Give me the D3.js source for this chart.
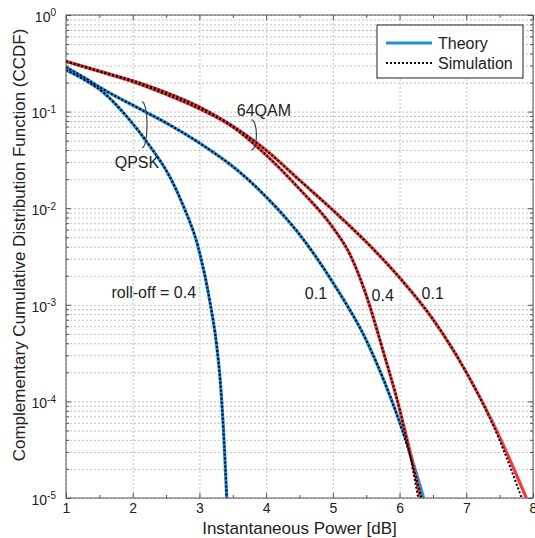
<!DOCTYPE html>
<html>
<head>
<meta charset="utf-8">
<script src="https://cdn.jsdelivr.net/npm/d3@7"></script>
<style>
  body { margin: 0; background: #fff; }
  svg { font-family: "Liberation Sans", Arial, sans-serif; }
  .grid line { stroke: #c0c0c0; stroke-dasharray: 2,2; }
  .grid path { display: none; }
  .axis path { display: none; }
  .axis line { stroke: #555; }
  .axis text { fill: #222; font-size: 14px; }
  .note { fill: #222; font-size: 16px; }
  .title { fill: #222; font-size: 17px; }
</style>
</head>
<body>
<svg class="chart" width="535" height="538"></svg>
<script>
let margin = {top: 15, right: 2, bottom: 40, left: 66};
let canvasWidth = 535;
let canvasHeight = 538;

// ticks
const powerTicks = [1, 2, 3, 4, 5, 6, 7, 8];
const powerMinorTicks = [1.5, 2.5, 3.5, 4.5, 5.5, 6.5, 7.5];
const ccdfTicks = [1e-5, 1e-4, 1e-3, 1e-2, 1e-1, 1];

// QPSK, roll-off 0.1
const qpsk01Power = [1.0, 1.3, 1.56, 2.16, 2.56, 3.01, 3.61, 4.01, 4.51, 5.01, 5.51, 5.86, 6.11, 6.36];
const qpsk01Theory = [0.288, 0.219, 0.170, 0.102, 0.0724, 0.0468, 0.0234, 0.0129, 0.00525, 0.00166, 4.17e-4, 1.12e-4, 3.72e-5, 1e-5];
const qpsk01SimPower = [1.0, 1.3, 1.56, 2.16, 2.56, 3.01, 3.61, 4.01, 4.51, 5.01, 5.51, 5.86, 6.1, 6.33];
const qpsk01Sim = [0.288, 0.219, 0.170, 0.102, 0.0724, 0.0468, 0.0234, 0.0129, 0.00525, 0.00166, 4.17e-4, 1.12e-4, 3.72e-5, 1e-5];

// QPSK, roll-off 0.4
const qpsk04Power = [1.0, 1.3, 1.56, 1.91, 2.26, 2.56, 2.76, 2.98, 3.16, 3.26, 3.31, 3.36, 3.41];
const qpsk04Theory = [0.269, 0.209, 0.158, 0.0891, 0.0437, 0.0209, 0.0105, 0.00398, 0.00105, 3.72e-4, 1.70e-4, 5.13e-5, 1e-5];
const qpsk04SimPower = [1.0, 1.3, 1.56, 1.91, 2.26, 2.56, 2.76, 2.98, 3.16, 3.26, 3.31, 3.36, 3.41];
const qpsk04Sim = [0.269, 0.209, 0.158, 0.0891, 0.0437, 0.0209, 0.0105, 0.00398, 0.00105, 3.72e-4, 1.70e-4, 5.13e-5, 1e-5];

// 64QAM, roll-off 0.1
const qam01Power = [1.0, 1.5, 2.0, 2.5, 3.0, 3.5, 4.0, 4.5, 5.0, 5.5, 6.0, 6.5, 7.0, 7.5, 7.9];
const qam01Theory = [0.331, 0.263, 0.209, 0.158, 0.112, 0.0708, 0.0398, 0.0195, 0.00955, 0.00447, 0.00191, 7.08e-4, 2.0e-4, 4.27e-5, 1e-5];
const qam01SimPower = [1.0, 1.5, 2.0, 2.5, 3.0, 3.5, 4.0, 4.5, 5.0, 5.5, 6.0, 6.5, 7.0, 7.48, 7.83];
const qam01Sim = [0.331, 0.263, 0.209, 0.158, 0.112, 0.0708, 0.0398, 0.0195, 0.00955, 0.00447, 0.00191, 7.08e-4, 2.0e-4, 4.27e-5, 1e-5];

// 64QAM, roll-off 0.4
const qam04Power = [1.0, 1.5, 2.0, 2.5, 3.0, 3.5, 4.0, 4.5, 5.0, 5.25, 5.5, 5.75, 6.0, 6.15, 6.31];
const qam04Theory = [0.331, 0.260, 0.204, 0.151, 0.107, 0.0692, 0.0355, 0.0158, 0.00631, 0.00339, 0.00126, 3.39e-4, 8.32e-5, 3.16e-5, 1e-5];
const qam04SimPower = [1.0, 1.5, 2.0, 2.5, 3.0, 3.5, 4.0, 4.5, 5.0, 5.25, 5.5, 5.75, 6.0, 6.14, 6.28];
const qam04Sim = [0.331, 0.260, 0.204, 0.151, 0.107, 0.0692, 0.0355, 0.0158, 0.00631, 0.00339, 0.00126, 3.39e-4, 8.32e-5, 3.16e-5, 1e-5];

const blue = "#1f8fe3";
const red = "#f23a3a";

const curves = [
  {x: qpsk01Power, y: qpsk01Theory, color: blue},
  {x: qpsk04Power, y: qpsk04Theory, color: blue},
  {x: qam01Power, y: qam01Theory, color: red},
  {x: qam04Power, y: qam04Theory, color: red}
];
const sims = [
  {x: qpsk01SimPower, y: qpsk01Sim},
  {x: qpsk04SimPower, y: qpsk04Sim},
  {x: qam01SimPower, y: qam01Sim},
  {x: qam04SimPower, y: qam04Sim}
];

drawChart()

function drawChart(){
  const svg = d3.select(".chart");
  const x0 = margin.left, x1 = canvasWidth - margin.right;
  const y0 = margin.top, y1 = canvasHeight - margin.bottom;

  const xScale = d3.scaleLinear().domain([1, 8]).range([x0, x1]);
  const yScale = d3.scaleLog().domain([1e-5, 1]).range([y1, y0]);

  // all log ticks for grid
  const logTicks = [];
  for (let k = -5; k <= 0; k++) {
    for (let m = 1; m <= 9; m++) {
      const v = m * Math.pow(10, k);
      if (v <= 1) logTicks.push(v);
    }
  }
  const logMinor = logTicks.filter(v => !ccdfTicks.includes(v));

  // X grid
  svg.append("g").attr("class", "grid")
    .attr("transform", `translate(0, ${y0})`)
    .call(d3.axisTop(xScale).tickValues(powerTicks).tickSize(-(y1 - y0)).tickFormat(""));

  // Y grid
  svg.append("g").attr("class", "grid")
    .attr("transform", `translate(${x0}, 0)`)
    .call(d3.axisLeft(yScale).tickValues(logTicks).tickSize(-(x1 - x0)).tickFormat(""));

  // curves
  svg.append("clipPath").attr("id", "plotclip")
    .append("rect").attr("x", x0).attr("y", y0).attr("width", x1 - x0).attr("height", y1 - y0);

  const line = d3.line()
    .x(d => xScale(d[0]))
    .y(d => yScale(d[1]))
    .curve(d3.curveMonotoneX);

  const plot = svg.append("g").attr("clip-path", "url(#plotclip)");

  plot.selectAll(".theory")
    .data(curves)
    .enter()
    .append("path")
    .attr("class", "theory")
    .attr("fill", "none")
    .attr("stroke", d => d.color)
    .attr("stroke-width", 3.2)
    .attr("d", d => line(d3.zip(d.x, d.y)));

  plot.selectAll(".sim")
    .data(sims)
    .enter()
    .append("path")
    .attr("class", "sim")
    .attr("fill", "none")
    .attr("stroke", "#000")
    .attr("stroke-width", 2)
    .attr("stroke-dasharray", "2,2")
    .attr("d", d => line(d3.zip(d.x, d.y)));

  // axes (ticks inward, box on)
  svg.append("g").attr("class", "axis")
    .attr("transform", `translate(0, ${y1})`)
    .call(d3.axisBottom(xScale).tickValues(powerTicks).tickSize(-5).tickSizeOuter(0).tickPadding(5).tickFormat(d3.format("d")));
  svg.append("g").attr("class", "axis")
    .attr("transform", `translate(0, ${y1})`)
    .call(d3.axisBottom(xScale).tickValues(powerMinorTicks).tickSize(-3).tickFormat(""));
  svg.append("g").attr("class", "axis")
    .attr("transform", `translate(0, ${y0})`)
    .call(d3.axisTop(xScale).tickValues(powerTicks).tickSize(-5).tickFormat(""));
  svg.append("g").attr("class", "axis")
    .attr("transform", `translate(0, ${y0})`)
    .call(d3.axisTop(xScale).tickValues(powerMinorTicks).tickSize(-3).tickFormat(""));

  const yAxis = svg.append("g").attr("class", "axis")
    .attr("transform", `translate(${x0}, 0)`)
    .call(d3.axisLeft(yScale).tickValues(ccdfTicks).tickSize(-5).tickSizeOuter(0).tickPadding(10));
  svg.append("g").attr("class", "axis")
    .attr("transform", `translate(${x0}, 0)`)
    .call(d3.axisLeft(yScale).tickValues(logMinor).tickSize(-3).tickFormat(""));
  svg.append("g").attr("class", "axis")
    .attr("transform", `translate(${x1}, 0)`)
    .call(d3.axisRight(yScale).tickValues(ccdfTicks).tickSize(-5).tickFormat(""));
  svg.append("g").attr("class", "axis")
    .attr("transform", `translate(${x1}, 0)`)
    .call(d3.axisRight(yScale).tickValues(logMinor).tickSize(-3).tickFormat(""));

  // 10^k labels
  yAxis.selectAll(".tick text")
    .attr("dy", "0.45em")
    .each(function(d){
      const t = d3.select(this);
      t.text("");
      t.append("tspan").text("10");
      t.append("tspan").attr("dy", "-0.55em").attr("font-size", "10px").text(Math.round(Math.log10(d)));
    });

  // frame
  svg.append("rect")
    .attr("x", x0).attr("y", y0)
    .attr("width", x1 - x0).attr("height", y1 - y0)
    .attr("fill", "none").attr("stroke", "#555").attr("stroke-width", 1);

  // axis titles
  svg.append("text").attr("class", "title")
    .attr("x", (x0 + x1) / 2).attr("y", 534)
    .attr("text-anchor", "middle")
    .text("Instantaneous Power [dB]");
  svg.append("text").attr("class", "title")
    .attr("transform", "translate(25, 245) rotate(-90)")
    .attr("text-anchor", "middle")
    .text("Complementary Cumulative Distribution Function (CCDF)");

  // annotations (placed in data units)
  const notes = [
    {t: "QPSK", x: 1.73, y: -1.58, anchor: "start"},
    {t: "64QAM", x: 3.56, y: -1.05, anchor: "start"},
    {t: "roll-off = 0.4", x: 2.95, y: -2.93, anchor: "end"},
    {t: "0.1", x: 4.58, y: -2.94, anchor: "start"},
    {t: "0.4", x: 5.58, y: -2.96, anchor: "start"},
    {t: "0.1", x: 6.33, y: -2.94, anchor: "start"}
  ];
  svg.selectAll(".ann")
    .data(notes)
    .enter()
    .append("text")
    .attr("class", "note ann")
    .attr("x", d => xScale(d.x))
    .attr("y", d => yScale(Math.pow(10, d.y)))
    .attr("text-anchor", d => d.anchor)
    .text(d => d.t);

  // brackets
  const brackets = [
    {x: 2.14, top: -0.90, bottom: -1.375},
    {x: 3.78, top: -1.086, bottom: -1.396}
  ];
  svg.selectAll(".brk")
    .data(brackets)
    .enter()
    .append("path")
    .attr("class", "brk")
    .attr("fill", "none")
    .attr("stroke", "#444")
    .attr("stroke-width", 1.2)
    .attr("d", d => {
      const bx = xScale(d.x), ty = yScale(Math.pow(10, d.top)), by = yScale(Math.pow(10, d.bottom));
      return `M${bx},${ty} A5,${(by - ty) / 2} 0 0 1 ${bx},${by}`;
    });

  // legend
  const lg = svg.append("g");
  lg.append("rect")
    .attr("x", 377).attr("y", 25).attr("width", 146).attr("height", 53)
    .attr("fill", "#fff").attr("stroke", "#222").attr("stroke-width", 1);
  lg.append("line")
    .attr("x1", 386).attr("x2", 432).attr("y1", 43).attr("y2", 43)
    .attr("stroke", blue).attr("stroke-width", 3);
  lg.append("line")
    .attr("x1", 386).attr("x2", 432).attr("y1", 63).attr("y2", 63)
    .attr("stroke", "#000").attr("stroke-width", 2).attr("stroke-dasharray", "2,2");
  lg.append("text").attr("class", "note").attr("x", 438).attr("y", 48.5).text("Theory");
  lg.append("text").attr("class", "note").attr("x", 438).attr("y", 68.5).text("Simulation");
}
</script>
</body>
</html>
